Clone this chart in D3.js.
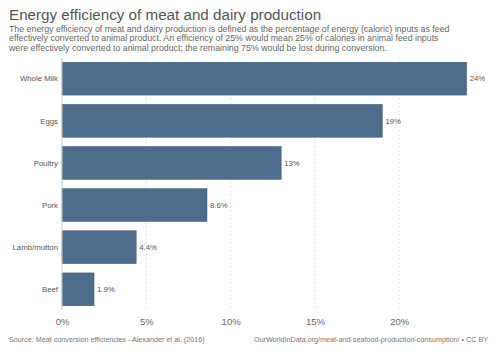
<!DOCTYPE html>
<html>
<head>
<meta charset="utf-8">
<script src="https://cdn.jsdelivr.net/npm/d3@7"></script>
<style>
  body { margin: 0; background: #fff; }
  svg { font-family: "Liberation Sans", Arial, sans-serif; }
</style>
</head>
<body>
<div id="chart"></div>
<script>
var categories = ["Whole Milk", "Eggs", "Poultry", "Pork", "Lamb/mutton", "Beef"];
var values = [24, 19, 13, 8.6, 4.4, 1.9];
var valueLabels = ["24%", "19%", "13%", "8.6%", "4.4%", "1.9%"];
var tickValues = [0, 5, 10, 15, 20];
var subtitleLines = [
  "The energy efficiency of meat and dairy production is defined as the percentage of energy (caloric) inputs as feed",
  "effectively converted to animal product. An efficiency of 25% would mean 25% of calories in animal feed inputs",
  "were effectively converted to animal product; the remaining 75% would be lost during conversion."
];

var width = 500, height = 353;
var margin = {top: 58, right: 33, bottom: 43, left: 62};

var svg = d3.select("#chart").append("svg")
    .attr("width", width)
    .attr("height", height);

// Title and subtitle
svg.append("text")
    .attr("x", 9).attr("y", 20)
    .attr("font-size", 15.2)
    .attr("fill", "#555")
    .text("Energy efficiency of meat and dairy production");

svg.selectAll(".subtitle")
  .data(subtitleLines)
  .enter().append("text")
    .attr("class", "subtitle")
    .attr("x", 9)
    .attr("y", function(d, i) { return 32 + i * 9.4; })
    .attr("font-size", 8.8)
    .attr("fill", "#666")
    .text(function(d) { return d; });

var xScale = d3.scaleLinear()
    .domain([0, 24])
    .range([margin.left, margin.left + 24 * 16.86]);

var yScale = d3.scaleBand()
    .domain(categories)
    .range([margin.top, height - margin.bottom])
    .paddingInner(0.22)
    .paddingOuter(0.1);

// Grid lines
svg.append("g").selectAll("line")
  .data(tickValues.slice(1))
  .enter().append("line")
    .attr("x1", function(d) { return xScale(d); })
    .attr("x2", function(d) { return xScale(d); })
    .attr("y1", margin.top)
    .attr("y2", height - margin.bottom)
    .attr("stroke", "#ddd")
    .attr("stroke-width", 0.8)
    .attr("stroke-dasharray", "2,2");

// Bars
svg.append("g").selectAll("rect")
  .data(values)
  .enter().append("rect")
    .attr("x", xScale(0))
    .attr("y", function(d, i) { return yScale(categories[i]); })
    .attr("width", function(d) { return xScale(d) - xScale(0); })
    .attr("height", yScale.bandwidth())
    .attr("fill", "#4c6c8b")
    .attr("stroke", "#3f5a74")
    .attr("stroke-width", 0.5);

// Zero axis line
svg.append("line")
    .attr("x1", xScale(0)).attr("x2", xScale(0))
    .attr("y1", margin.top).attr("y2", height - margin.bottom)
    .attr("stroke", "#ccc")
    .attr("stroke-width", 1);

// Category labels
svg.append("g").selectAll("text")
  .data(categories)
  .enter().append("text")
    .attr("x", xScale(0) - 4)
    .attr("y", function(d) { return yScale(d) + yScale.bandwidth() / 2; })
    .attr("dy", "0.35em")
    .attr("text-anchor", "end")
    .attr("font-size", 7.8)
    .attr("fill", "#555")
    .text(function(d) { return d; });

// Value labels
svg.append("g").selectAll("text")
  .data(values)
  .enter().append("text")
    .attr("x", function(d) { return xScale(d) + 3; })
    .attr("y", function(d, i) { return yScale(categories[i]) + yScale.bandwidth() / 2; })
    .attr("dy", "0.35em")
    .attr("font-size", 7.8)
    .attr("fill", "#555")
    .text(function(d, i) { return valueLabels[i]; });

// X axis
var xAxis = d3.axisBottom(xScale)
    .tickValues(tickValues)
    .tickSize(0)
    .tickPadding(8)
    .tickFormat(function(d) { return d + "%"; });

var gx = svg.append("g")
    .attr("transform", "translate(0," + (height - margin.bottom) + ")")
    .call(xAxis);
gx.select(".domain").remove();
gx.selectAll("text")
    .attr("font-size", 9.5)
    .attr("fill", "#666")
    .attr("font-family", "Liberation Sans, Arial, sans-serif");

// Footer
svg.append("text")
    .attr("x", 9).attr("y", 342)
    .attr("font-size", 7.2)
    .attr("fill", "#777")
    .text("Source: Meat conversion efficiencies - Alexander et al. (2016)");

svg.append("text")
    .attr("x", 488).attr("y", 342)
    .attr("text-anchor", "end")
    .attr("font-size", 7.2)
    .attr("fill", "#777")
    .text("OurWorldInData.org/meat-and-seafood-production-consumption/ • CC BY");
</script>
</body>
</html>
